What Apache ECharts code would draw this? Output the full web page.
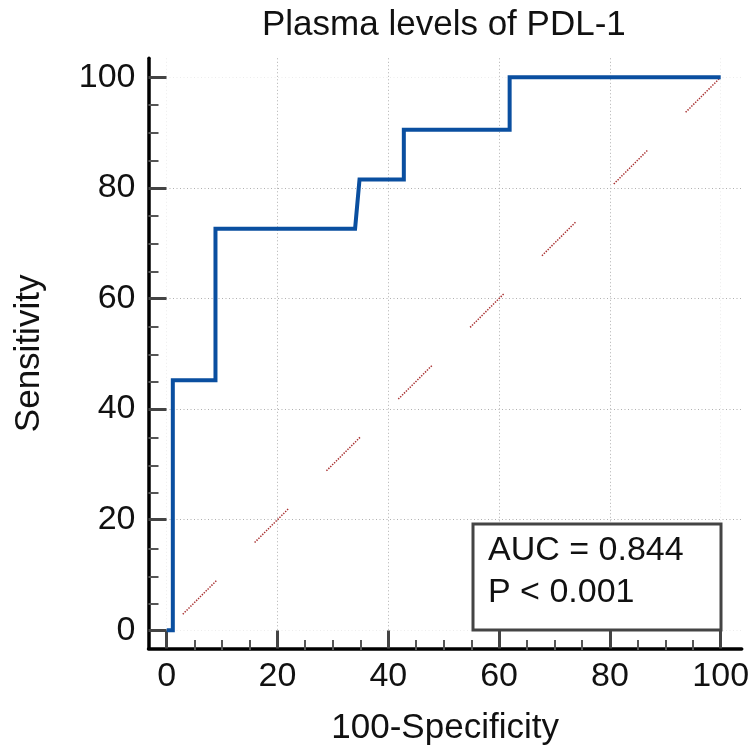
<!DOCTYPE html>
<html>
<head>
<meta charset="utf-8">
<script src="https://cdn.jsdelivr.net/npm/echarts@6/dist/echarts.min.js"></script>
<style>
  html, body { margin: 0; padding: 0; background: #fff; }
  #chart { width: 753px; height: 751px; }
</style>
</head>
<body>
<div id="chart"></div>
<script>
// Labels
const chartTitle = 'Plasma levels of PDL-1';
const xName = '100-Specificity';
const yName = 'Sensitivity';
const statLines = ['AUC = 0.844', 'P < 0.001'];

// ROC curve vertices: 100-Specificity (x) and Sensitivity (y), in %
const rocX = [0, 1.1, 1.1, 8.8, 8.8, 34.0, 34.8, 42.8, 42.8, 61.9, 61.9, 100];
const rocY = [0, 0, 45.2, 45.2, 72.6, 72.6, 81.5, 81.5, 90.5, 90.5, 100, 100];

// Chance diagonal
const refX = [0, 100];
const refY = [0, 100];

// Tick values
const majorTicks = [0, 20, 40, 60, 80, 100];
const minorTicks = [5, 10, 15, 25, 30, 35, 45, 50, 55, 65, 70, 75, 85, 90, 95];

// Axis extents reach a little past 0 and 100 so the frame sits off the data
const X_MIN = -3.29, X_MAX = 103.79;
const Y_MIN = -3.3, Y_MAX = 103.43;

const FONT = '"Liberation Sans", Arial, Helvetica, sans-serif';
const GRID = { left: 148.5, right: 11.3, top: 58.3, bottom: 101 };

// dotted dash pattern for the diagonal: runs of small dots separated by long gaps
const diagDash = [];
for (let i = 0; i < 17; i++) diagDash.push(1.4, 1.3);
diagDash.push(1.4, 54.2);

const gridLineColors = ['#ececec', '#b0b0b0', '#b0b0b0', '#b0b0b0', '#b0b0b0', '#ececec'];

// Major-tick axis (with labels, frame line and grid lines)
function majorAxis(extra) {
  return Object.assign({
    type: 'value',
    gridIndex: 0,
    nameLocation: 'middle',
    nameTextStyle: { fontSize: 35, fontFamily: FONT, color: '#111', lineHeight: 34 },
    axisLine: { show: true, onZero: false, lineStyle: { color: '#000', width: 3.5 } },
    axisTick: { show: true, inside: true, length: 18, customValues: majorTicks, lineStyle: { color: '#444', width: 3 } },
    axisLabel: { customValues: majorTicks, fontSize: 34, fontFamily: FONT, color: '#111', lineHeight: 34 },
    splitLine: { show: true, lineStyle: { type: [1, 2.5], width: 1, color: gridLineColors } }
  }, extra);
}

// Minor-tick axis, on an overlaid grid with the same rectangle
function minorAxis(extra) {
  return Object.assign({
    type: 'value',
    gridIndex: 1,
    axisLine: { show: false, onZero: false },
    axisTick: { show: true, inside: true, length: 10, customValues: minorTicks, lineStyle: { color: '#555', width: 2 } },
    axisLabel: { show: false },
    splitLine: { show: false }
  }, extra);
}

const chart = echarts.init(document.getElementById('chart'), null, { renderer: 'canvas' });

const option = {
  animation: false,
  backgroundColor: '#fff',
  title: {
    text: chartTitle,
    left: 262,
    top: 8,
    padding: 0,
    textStyle: { fontSize: 35, fontWeight: 'normal', fontFamily: FONT, color: '#111', lineHeight: 35 }
  },
  grid: [
    { left: GRID.left, right: GRID.right, top: GRID.top, bottom: GRID.bottom, containLabel: false },
    { left: GRID.left, right: GRID.right, top: GRID.top, bottom: GRID.bottom, containLabel: false }
  ],
  xAxis: [
    majorAxis({
      position: 'bottom', min: X_MIN, max: X_MAX,
      name: xName, nameGap: 63,
      axisLabel: { customValues: majorTicks, margin: 11, fontSize: 34, fontFamily: FONT, color: '#111', lineHeight: 34 }
    }),
    minorAxis({ position: 'bottom', min: X_MIN, max: X_MAX })
  ],
  yAxis: [
    majorAxis({
      position: 'left', min: Y_MIN, max: Y_MAX,
      name: yName, nameGap: 102,
      axisLabel: { customValues: majorTicks, margin: 13, fontSize: 34, fontFamily: FONT, color: '#111', lineHeight: 34, padding: [0, 0, 6, 0] }
    }),
    minorAxis({ position: 'left', min: Y_MIN, max: Y_MAX })
  ],
  series: [
    {
      name: 'Reference',
      type: 'line',
      xAxisIndex: 0,
      yAxisIndex: 0,
      data: refX.map((x, i) => [x, refY[i]]),
      symbol: 'none',
      silent: true,
      z: 2,
      lineStyle: { color: '#a83030', width: 1.5, type: diagDash, dashOffset: 78.8 }
    },
    {
      name: 'ROC',
      type: 'line',
      xAxisIndex: 0,
      yAxisIndex: 0,
      data: rocX.map((x, i) => [x, rocY[i]]),
      symbol: 'none',
      z: 3,
      lineStyle: { color: '#0a4fa0', width: 4, join: 'miter' }
    }
  ],
  graphic: [
    {
      type: 'rect',
      z: 100,
      shape: { x: 473, y: 524, width: 248, height: 106 },
      style: { fill: '#fff', stroke: '#444', lineWidth: 3 }
    },
    {
      type: 'text',
      z: 101,
      x: 488,
      y: 530,
      style: {
        text: statLines.join('\n'),
        fontSize: 34,
        fontFamily: FONT,
        fill: '#111',
        lineHeight: 42,
        verticalAlign: 'top',
        align: 'left'
      }
    }
  ]
};

chart.setOption(option);
</script>
</body>
</html>
